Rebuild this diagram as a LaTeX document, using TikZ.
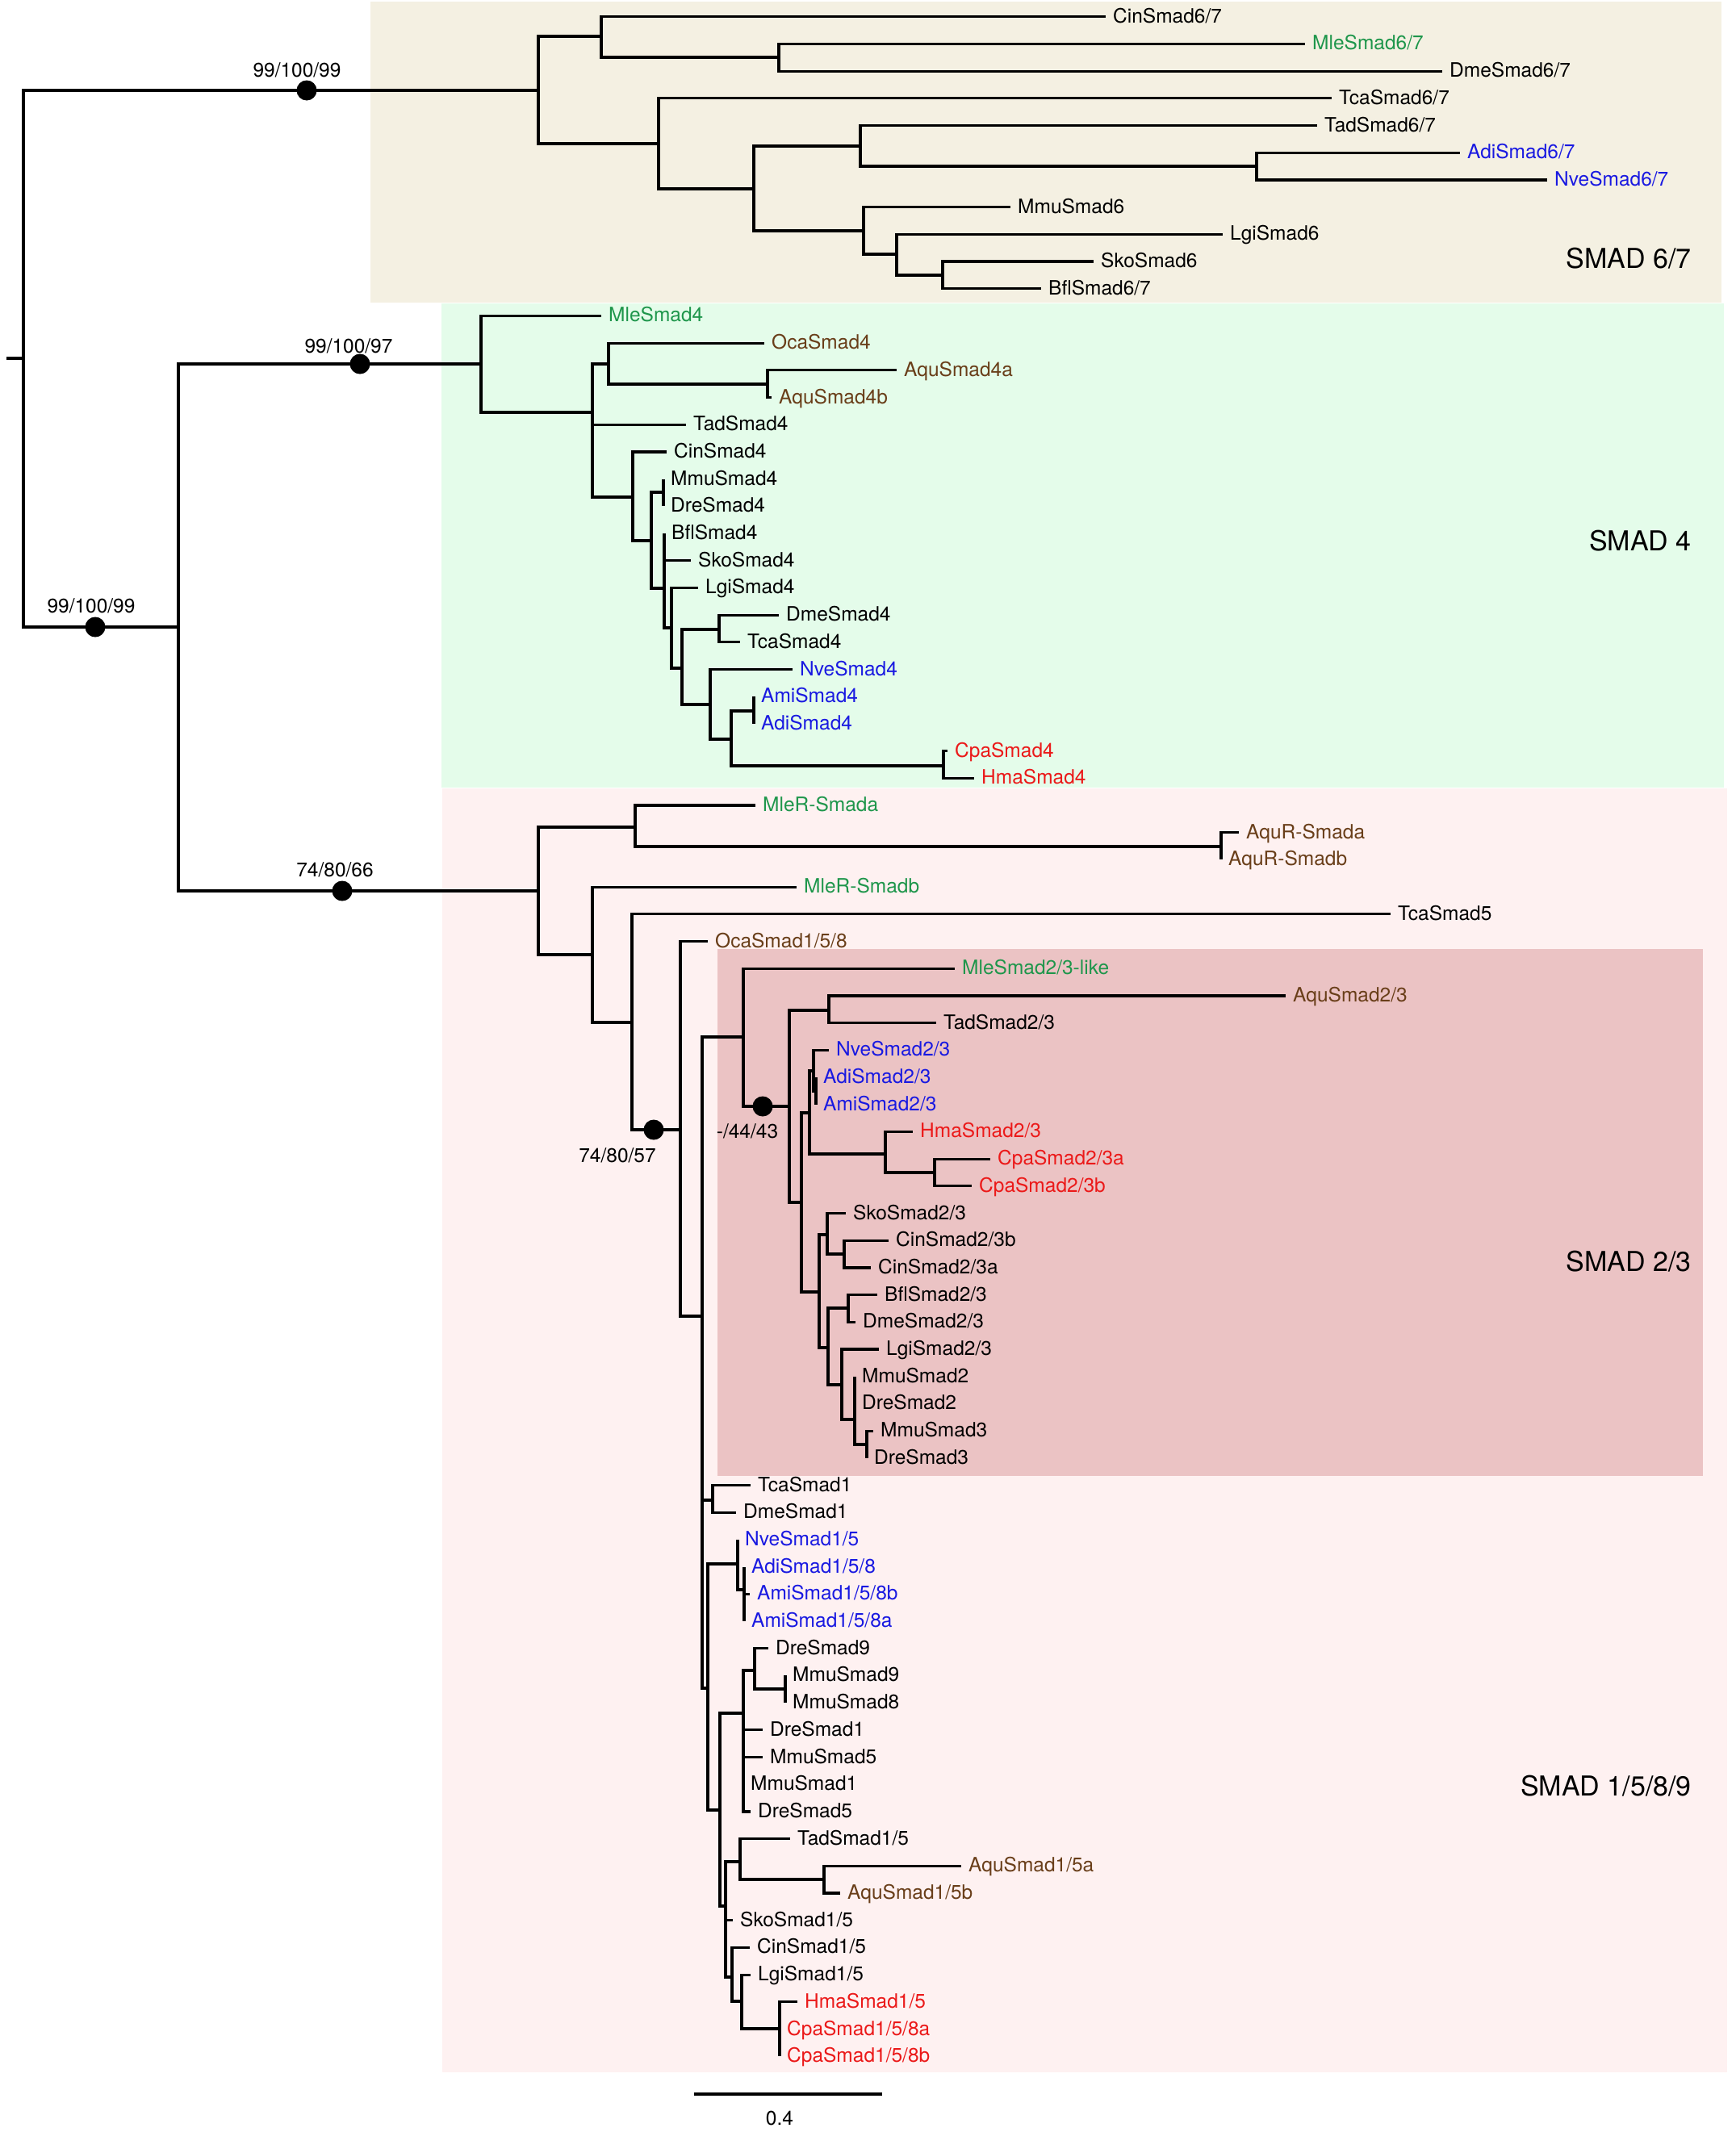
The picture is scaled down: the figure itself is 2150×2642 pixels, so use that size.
\documentclass[tikz,border=0pt]{standalone}
\usepackage{fontspec}
\setmainfont{TeX Gyre Heros}
\definecolor{cgreen}{RGB}{30,150,75}
\definecolor{cbrown}{RGB}{105,62,25}
\definecolor{cblue}{RGB}{25,25,225}
\definecolor{cred}{RGB}{235,25,25}
\definecolor{bgsixseven}{RGB}{244,240,226}
\definecolor{bgfour}{RGB}{228,252,234}
\definecolor{bgone}{RGB}{254,241,241}
\definecolor{bgtwo}{RGB}{235,195,196}
\tikzset{
  br/.style={line width=3.2pt, black},
  leaf/.style={anchor=base west, inner sep=0pt, xshift=9pt, yshift=-7.5pt, font=\fontsize{24.5}{29}\selectfont},
  boot/.style={inner sep=0pt, font=\fontsize{24.5}{29}\selectfont},
  clade/.style={anchor=east, inner sep=0pt, font=\fontsize{34}{40}\selectfont},
  bdot/.style={circle, fill=black, minimum size=25pt, inner sep=0pt},
}
\newcommand\myleaf[5]{\coordinate (#1) at (#2,#3); \node[leaf,text=#4] (#1-t) at (#1) {#5};}
\begin{document}
\begin{tikzpicture}[x=1pt,y=-1pt]
\useasboundingbox (0,0) rectangle (2150,2642);
% backgrounds
\fill[bgsixseven] (459,2) rectangle (2133,375);
\fill[bgfour] (547,376) rectangle (2136,976);
\fill[bgone] (548,977) rectangle (2140,2568);
\fill[bgtwo] (889,1176) rectangle (2110,1829);
% leaves
\myleaf{Cin67}{1370}{20.7}{black}{CinSmad6/7}
\myleaf{Mle67}{1617}{54.4}{cgreen}{MleSmad6/7}
\myleaf{Dme67}{1787}{88.1}{black}{DmeSmad6/7}
\myleaf{Tca67}{1650}{121.8}{black}{TcaSmad6/7}
\myleaf{Tad67}{1632}{155.5}{black}{TadSmad6/7}
\myleaf{Adi67}{1809}{189.2}{cblue}{AdiSmad6/7}
\myleaf{Nve67}{1917}{222.9}{cblue}{NveSmad6/7}
\myleaf{Mmu6}{1252}{256.6}{black}{MmuSmad6}
\myleaf{Lgi6}{1515}{290.3}{black}{LgiSmad6}
\myleaf{Sko6}{1355}{324.0}{black}{SkoSmad6}
\myleaf{Bfl67}{1290}{357.7}{black}{BflSmad6/7}
\myleaf{Mle4}{745}{391.4}{cgreen}{MleSmad4}
\myleaf{Oca4}{947}{425.1}{cbrown}{OcaSmad4}
\myleaf{Aqu4a}{1111}{458.8}{cbrown}{AquSmad4a}
\myleaf{Aqu4b}{956}{492.5}{cbrown}{AquSmad4b}
\myleaf{Tad4}{850}{526.2}{black}{TadSmad4}
\myleaf{Cin4}{826}{559.9}{black}{CinSmad4}
\myleaf{Mmu4}{822}{593.6}{black}{MmuSmad4}
\myleaf{Dre4}{822}{627.3}{black}{DreSmad4}
\myleaf{Bfl4}{823}{661.0}{black}{BflSmad4}
\myleaf{Sko4}{856}{694.7}{black}{SkoSmad4}
\myleaf{Lgi4}{865}{728.4}{black}{LgiSmad4}
\myleaf{Dme4}{965}{762.1}{black}{DmeSmad4}
\myleaf{Tca4}{917}{795.8}{black}{TcaSmad4}
\myleaf{Nve4}{982}{829.5}{cblue}{NveSmad4}
\myleaf{Ami4}{934}{863.2}{cblue}{AmiSmad4}
\myleaf{Adi4}{934}{896.9}{cblue}{AdiSmad4}
\myleaf{Cpa4}{1174}{930.6}{cred}{CpaSmad4}
\myleaf{Hma4}{1207}{964.3}{cred}{HmaSmad4}
\myleaf{MleRa}{936}{998.0}{cgreen}{MleR-Smada}
\myleaf{AquRa}{1535}{1031.7}{cbrown}{AquR-Smada}
\myleaf{AquRb}{1513}{1065.4}{cbrown}{AquR-Smadb}
\myleaf{MleRb}{987}{1099.1}{cgreen}{MleR-Smadb}
\myleaf{Tca5}{1723}{1132.8}{black}{TcaSmad5}
\myleaf{Oca158}{877}{1166.5}{cbrown}{OcaSmad1/5/8}
\myleaf{Mle23}{1183}{1200.2}{cgreen}{MleSmad2/3-like}
\myleaf{Aqu23}{1593}{1233.9}{cbrown}{AquSmad2/3}
\myleaf{Tad23}{1160}{1267.6}{black}{TadSmad2/3}
\myleaf{Nve23}{1027}{1301.3}{cblue}{NveSmad2/3}
\myleaf{Adi23}{1011}{1335.0}{cblue}{AdiSmad2/3}
\myleaf{Ami23}{1011}{1368.7}{cblue}{AmiSmad2/3}
\myleaf{Hma23}{1131}{1402.4}{cred}{HmaSmad2/3}
\myleaf{Cpa23a}{1227}{1436.1}{cred}{CpaSmad2/3a}
\myleaf{Cpa23b}{1204}{1469.8}{cred}{CpaSmad2/3b}
\myleaf{Sko23}{1048}{1503.5}{black}{SkoSmad2/3}
\myleaf{Cin23b}{1101}{1537.2}{black}{CinSmad2/3b}
\myleaf{Cin23a}{1079}{1570.9}{black}{CinSmad2/3a}
\myleaf{Bfl23}{1087}{1604.6}{black}{BflSmad2/3}
\myleaf{Dme23}{1060}{1638.3}{black}{DmeSmad2/3}
\myleaf{Lgi23}{1089}{1672.0}{black}{LgiSmad2/3}
\myleaf{Mmu2}{1059}{1705.7}{black}{MmuSmad2}
\myleaf{Dre2}{1059}{1739.4}{black}{DreSmad2}
\myleaf{Mmu3}{1082}{1773.1}{black}{MmuSmad3}
\myleaf{Dre3}{1074}{1806.8}{black}{DreSmad3}
\myleaf{Tca1}{930}{1840.5}{black}{TcaSmad1}
\myleaf{Dme1}{912}{1874.2}{black}{DmeSmad1}
\myleaf{Nve15}{914}{1907.9}{cblue}{NveSmad1/5}
\myleaf{Adi158}{922}{1941.6}{cblue}{AdiSmad1/5/8}
\myleaf{Ami158b}{929}{1975.3}{cblue}{AmiSmad1/5/8b}
\myleaf{Ami158a}{922}{2009.0}{cblue}{AmiSmad1/5/8a}
\myleaf{Dre9}{952}{2042.7}{black}{DreSmad9}
\myleaf{Mmu9}{973}{2076.4}{black}{MmuSmad9}
\myleaf{Mmu8}{973}{2110.1}{black}{MmuSmad8}
\myleaf{Dre1}{945}{2143.8}{black}{DreSmad1}
\myleaf{Mmu5}{945}{2177.5}{black}{MmuSmad5}
\myleaf{Mmu1}{921}{2211.2}{black}{MmuSmad1}
\myleaf{Dre5}{930}{2244.9}{black}{DreSmad5}
\myleaf{Tad15}{979}{2278.6}{black}{TadSmad1/5}
\myleaf{Aqu15a}{1191}{2312.3}{cbrown}{AquSmad1/5a}
\myleaf{Aqu15b}{1041}{2346.0}{cbrown}{AquSmad1/5b}
\myleaf{Sko15}{908}{2379.7}{black}{SkoSmad1/5}
\myleaf{Cin15}{929}{2413.4}{black}{CinSmad1/5}
\myleaf{Lgi15}{930}{2447.1}{black}{LgiSmad1/5}
\myleaf{Hma15}{988}{2480.8}{cred}{HmaSmad1/5}
\myleaf{Cpa158a}{966}{2514.5}{cred}{CpaSmad1/5/8a}
\myleaf{Cpa158b}{966}{2548.2}{cred}{CpaSmad1/5/8b}
% internal nodes
\coordinate (rstub) at (8,444);
\coordinate (root) at (29,444);
\coordinate (n67) at (667,112);
\coordinate (a1) at (745,45);
\coordinate (a3) at (965,71);
\coordinate (a2) at (816,178);
\coordinate (a4) at (934,234);
\coordinate (a5) at (1066,181);
\coordinate (a7) at (1557,206);
\coordinate (a6) at (1070,286);
\coordinate (a8) at (1111,315);
\coordinate (a9) at (1168,341);
\coordinate (n2) at (221,777);
\coordinate (n4) at (596,451);
\coordinate (n158) at (667,1104);
\coordinate (b1) at (734,511);
\coordinate (b2) at (754,451);
\coordinate (b4) at (951,476);
\coordinate (b3) at (784,616);
\coordinate (b5) at (807,670);
\coordinate (b6) at (822,610);
\coordinate (b7) at (823,729);
\coordinate (b8) at (832,778);
\coordinate (b9) at (845,828);
\coordinate (b10) at (891,780);
\coordinate (b11) at (880,873);
\coordinate (b12) at (906,916);
\coordinate (b13) at (934,881);
\coordinate (b14) at (1169,949);
\coordinate (c1) at (787,1025);
\coordinate (c3) at (1513,1049);
\coordinate (c2) at (734,1183);
\coordinate (c4) at (783,1267);
\coordinate (c5) at (843,1400);
\coordinate (c6) at (870,1631);
\coordinate (s23) at (921,1285);
\coordinate (f1) at (978,1371);
\coordinate (f2) at (1027,1252);
\coordinate (f3) at (993,1490);
\coordinate (f4) at (1003,1379);
\coordinate (f6) at (1008,1327);
\coordinate (f8) at (1011,1352);
\coordinate (f7) at (1097,1430);
\coordinate (f9) at (1158,1453);
\coordinate (f5) at (1015,1601);
\coordinate (f10) at (1025,1530);
\coordinate (f12) at (1046,1554);
\coordinate (f11) at (1026,1670);
\coordinate (f13) at (1051,1621);
\coordinate (f14) at (1043,1716);
\coordinate (f15) at (1059,1759);
\coordinate (f16) at (1074,1790);
\coordinate (e1) at (883,1859);
\coordinate (e2) at (877,2092);
\coordinate (g1) at (914,1938);
\coordinate (g3) at (922,1970);
\coordinate (g2) at (892,2243);
\coordinate (g4) at (921,2123);
\coordinate (g6) at (935,2070);
\coordinate (g7) at (973,2093);
\coordinate (g5) at (899,2362);
\coordinate (g8) at (917,2307);
\coordinate (g10) at (1021,2329);
\coordinate (g9) at (907,2450);
\coordinate (g11) at (919,2480);
\coordinate (g12) at (966,2514);
% branches
\draw[br] (rstub) -- (root);
\foreach \p/\c in {root/n67, root/n2,
  n67/a1, n67/a2, a1/Cin67, a1/a3, a3/Mle67, a3/Dme67, a2/Tca67, a2/a4, a4/a5, a4/a6,
  a5/Tad67, a5/a7, a7/Adi67, a7/Nve67, a6/Mmu6, a6/a8, a8/Lgi6, a8/a9, a9/Sko6, a9/Bfl67,
  n2/n4, n2/n158,
  n4/Mle4, n4/b1, b1/b2, b1/Tad4, b1/b3, b2/Oca4, b2/b4, b4/Aqu4a, b4/Aqu4b, b3/Cin4, b3/b5,
  b5/b6, b5/b7, b6/Mmu4, b6/Dre4, b7/Bfl4, b7/Sko4, b7/b8, b8/Lgi4, b8/b9, b9/b10, b9/b11,
  b10/Dme4, b10/Tca4, b11/Nve4, b11/b12, b12/b13, b12/b14, b13/Ami4, b13/Adi4, b14/Cpa4, b14/Hma4,
  n158/c1, n158/c2, c1/MleRa, c1/c3, c3/AquRa, c3/AquRb, c2/MleRb, c2/c4, c4/Tca5, c4/c5,
  c5/Oca158, c5/c6, c6/s23, c6/e1, c6/e2,
  s23/Mle23, s23/f1, f1/f2, f1/f3, f2/Aqu23, f2/Tad23, f3/f4, f3/f5, f4/f6, f4/f7, f6/Nve23, f6/f8,
  f8/Adi23, f8/Ami23, f7/Hma23, f7/f9, f9/Cpa23a, f9/Cpa23b, f5/f10, f5/f11, f10/Sko23, f10/f12,
  f12/Cin23b, f12/Cin23a, f11/f13, f11/f14, f13/Bfl23, f13/Dme23, f14/Lgi23, f14/f15, f15/Mmu2,
  f15/Dre2, f15/f16, f16/Mmu3, f16/Dre3,
  e1/Tca1, e1/Dme1, e2/g1, e2/g2, g1/Nve15, g1/g3, g3/Adi158, g3/Ami158b, g3/Ami158a, g2/g4, g2/g5,
  g4/g6, g4/Dre1, g4/Mmu5, g4/Mmu1, g4/Dre5, g6/Dre9, g6/g7, g7/Mmu9, g7/Mmu8, g5/g8, g5/Sko15,
  g5/g9, g8/Tad15, g8/g10, g10/Aqu15a, g10/Aqu15b, g9/Cin15, g9/g11, g11/Lgi15, g11/g12,
  g12/Hma15, g12/Cpa158a, g12/Cpa158b}
  \draw[br] (\p) |- (\c);
% support dots and values
\node[bdot] (d1) at (380,112) {};
\node[bdot] (d2) at (118,777) {};
\node[bdot] (d3) at (446,451) {};
\node[bdot] (d4) at (424,1104) {};
\node[bdot] (d5) at (810,1400) {};
\node[bdot] (d6) at (945,1371) {};
\node[boot] (bl1) at (368,87) {99/100/99};
\node[boot] (bl2) at (113,751) {99/100/99};
\node[boot] (bl3) at (432,429) {99/100/97};
\node[boot] (bl4) at (415,1078) {74/80/66};
\node[boot] (bl5) at (765,1432) {74/80/57};
\node[boot] (bl6) at (926,1402) {-/44/43};
% clade labels
\node[clade] (L67) at (2096,320) {SMAD 6/7};
\node[clade] (L4) at (2096,670) {SMAD 4};
\node[clade] (L23) at (2096,1563) {SMAD 2/3};
\node[clade] (L1589) at (2096,2213) {SMAD 1/5/8/9};
% scale bar
\coordinate (sbL) at (860,2595);
\coordinate (sbR) at (1093,2595);
\draw[line width=4.5pt] (sbL) -- (sbR);
\node[boot] (sbT) at (966,2625) {0.4};
\end{tikzpicture}
\end{document}
